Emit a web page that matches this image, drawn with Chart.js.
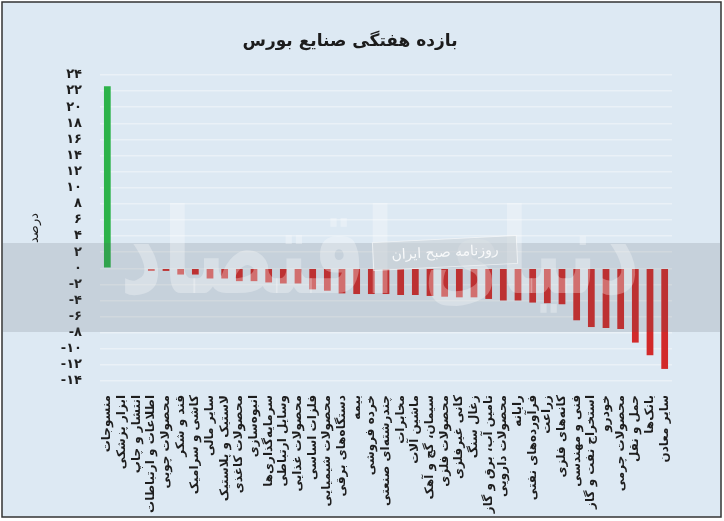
<!DOCTYPE html>
<html lang="fa">
<head>
<meta charset="utf-8">
<title>بازده هفتگی صنایع بورس</title>
<script src="https://cdn.jsdelivr.net/npm/chart.js@4.4.1/dist/chart.umd.min.js"></script>
<style>
  html, body { margin: 0; padding: 0; background: #ffffff; }
  canvas { display: block; }
</style>
</head>
<body>
<canvas id="myChart" width="724" height="521"></canvas>
<script>
const ctx = document.getElementById('myChart');

// data
const sanaye = [
  'منسوجات', 'ابزار پزشکی', 'انتشار و چاپ', 'اطلاعات و ارتباطات', 'محصولات چوبی',
  'قند و شکر', 'کاشی و سرامیک', 'سایر مالی', 'لاستیک و پلاستیک', 'محصولات کاغذی',
  'انبوه‌سازی', 'سرمایه‌گذاری‌ها', 'وسایل ارتباطی', 'محصولات غذایی', 'فلزات اساسی',
  'محصولات شیمیایی', 'دستگاه‌های برقی', 'بیمه', 'خرده فروشی', 'چندرشته‌ای صنعتی',
  'مخابرات', 'ماشین آلات', 'سیمان، گچ و آهک', 'محصولات فلزی', 'کانی غیرفلزی',
  'زغال سنگ', 'تامین آب، برق و گاز', 'محصولات دارویی', 'رایانه', 'فرآورده‌های نفتی',
  'زراعت', 'کانه‌های فلزی', 'فنی و مهندسی', 'استخراج نفت و گاز', 'خودرو',
  'محصولات چرمی', 'حمل و نقل', 'بانک‌ها', 'سایر معادن'
];
const bazdeh = [
  22.6, 0, 0, -0.33, -0.33, -0.78, -0.78, -1.27, -1.27, -1.6,
  -1.6, -1.76, -1.89, -1.89, -2.62, -2.79, -3.12, -3.2, -3.2, -3.2,
  -3.32, -3.32, -3.44, -3.53, -3.61, -3.61, -3.81, -4.0, -4.0, -4.26,
  -4.34, -4.47, -6.46, -7.3, -7.42, -7.54, -9.23, -10.8, -12.5
];
const yMin = -14;
const yMax = 24;
const yStep = 2;
const faDigits = ['۰', '۱', '۲', '۳', '۴', '۵', '۶', '۷', '۸', '۹'];

function toFa(v) {
  return String(v).replace(/[0-9]/g, d => faDigits[d]);
}

const FONT = 'DejaVu Sans';

// background, frame, title
const pasZamine = {
  id: 'pasZamine',
  beforeDraw(chart) {
    const c = chart.ctx;
    c.save();
    c.fillStyle = '#ffffff';
    c.fillRect(0, 0, chart.width, chart.height);
    c.fillStyle = '#dde9f3';
    c.fillRect(2, 2, 719, 515);
    c.strokeStyle = '#333333';
    c.lineWidth = 1.5;
    c.strokeRect(2, 2, 719, 515);
    c.fillStyle = '#1c1c1c';
    c.font = 'bold 17px ' + FONT;
    c.textAlign = 'center';
    c.textBaseline = 'middle';
    c.fillText('بازده هفتگی صنایع بورس', 350, 42);
    c.restore();
  },
  afterDatasetsDraw(chart) {
    const c = chart.ctx;
    c.save();
    // gray band of the watermark
    c.fillStyle = 'rgba(80, 88, 96, 0.16)';
    c.fillRect(3, 243, 717, 89);

    // big calligraphy watermark (approx.)
    c.globalAlpha = 0.3;
    c.font = 'bold 118px ' + FONT;
    c.textAlign = 'center';
    c.textBaseline = 'middle';
    const w = c.measureText('دنیای اقتصاد').width;
    c.translate(380, 262);
    c.scale(520 / w, 1);
    c.fillStyle = '#ffffff';
    c.fillText('دنیای اقتصاد', 0, 0);
    c.restore();

    // small box
    c.save();
    c.translate(445, 253);
    c.rotate(-0.05);
    c.fillStyle = 'rgba(205, 211, 217, 0.6)';
    c.fillRect(-72, -14, 144, 28);
    c.strokeStyle = 'rgba(255, 255, 255, 0.6)';
    c.lineWidth = 1;
    c.strokeRect(-72, -14, 144, 28);
    c.fillStyle = 'rgba(255, 255, 255, 0.85)';
    c.font = '14px ' + FONT;
    c.textAlign = 'center';
    c.textBaseline = 'middle';
    c.fillText('روزنامه صبح ایران', 0, 0);
    c.restore();
  }
};

const myChart = new Chart(ctx, {
  type: 'bar',
  data: {
    labels: sanaye,
    datasets: [{
      label: 'بازده هفتگی',
      data: bazdeh,
      backgroundColor: bazdeh.map(v => v >= 0 ? '#2db34a' : '#d22a2a'),
      categoryPercentage: 1,
      barPercentage: 0.46
    }]
  },
  options: {
    responsive: false,
    animation: false,
    layout: { padding: { top: 75, right: 52, bottom: 0, left: 0 } },
    plugins: {
      legend: { display: false },
      tooltip: { enabled: false }
    },
    scales: {
      x: {
        grid: { display: false },
        border: { display: false },
        ticks: {
          autoSkip: false,
          minRotation: 90,
          maxRotation: 90,
          padding: 6,
          color: '#1e1e1e',
          font: { family: FONT, weight: 'bold', size: 12 }
        },
        afterFit(scale) { scale.height = 140; }
      },
      y: {
        min: yMin,
        max: yMax,
        grid: { color: '#eaf1f7', lineWidth: 1.5, drawTicks: false },
        border: { display: false },
        ticks: {
          stepSize: yStep,
          autoSkip: false,
          padding: 18,
          color: '#1e1e1e',
          font: { family: FONT, weight: 'bold', size: 13, lineHeight: 1 },
          callback: v => toFa(v)
        },
        title: {
          display: true,
          text: 'درصد',
          color: '#1e1e1e',
          padding: { top: 27, bottom: 0 },
          font: { family: FONT, size: 13 }
        },
        afterFit(scale) { scale.width = 100; }
      }
    }
  },
  plugins: [pasZamine]
});
</script>
</body>
</html>
